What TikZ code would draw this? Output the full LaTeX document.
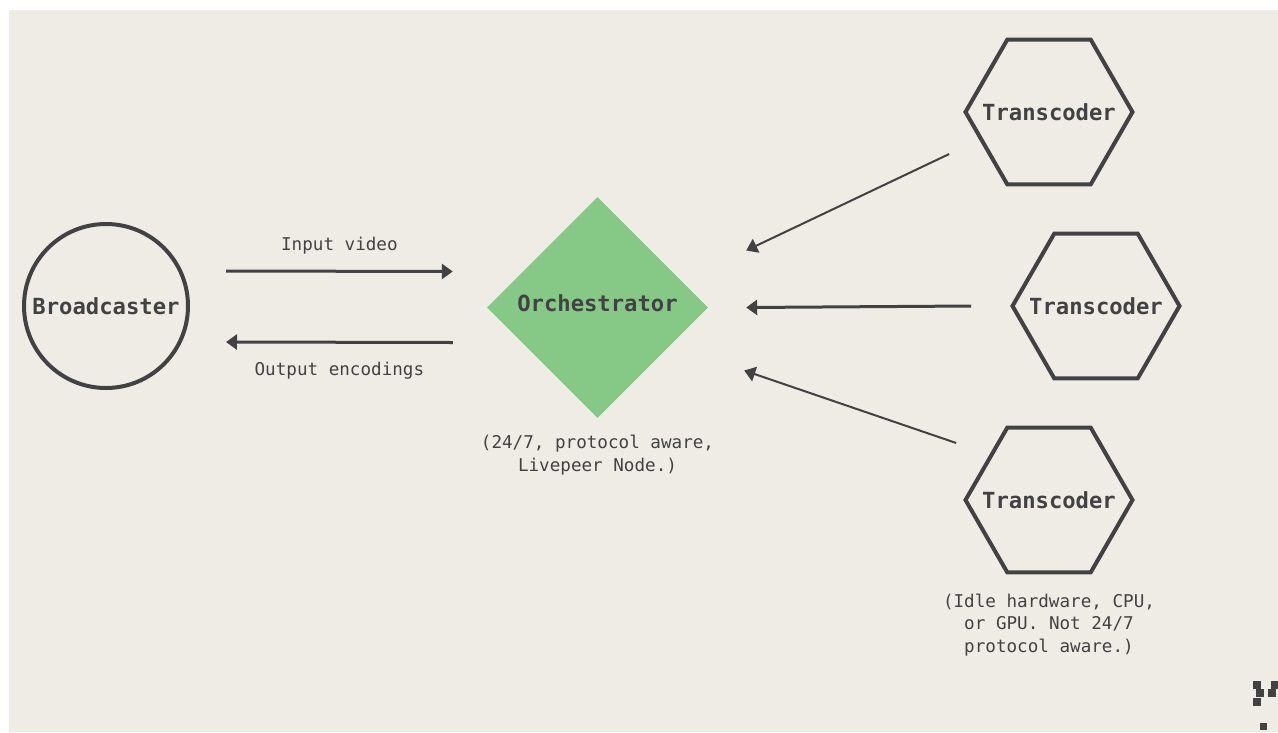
\documentclass[tikz,border=0pt]{standalone}
\usepackage{fontspec}
\setmonofont{DejaVu Sans Mono}
\usetikzlibrary{shapes.geometric,arrows.meta,positioning}
\definecolor{paper}{HTML}{EFECE6}
\definecolor{ink}{HTML}{424242}
\definecolor{leaf}{HTML}{86C886}
\begin{document}
\begin{tikzpicture}[x=1pt,y=-1pt,
  lbl/.style={font=\ttfamily\fontsize{17.6}{22.5}\selectfont, text=ink, inner sep=0pt, align=center},
  big/.style={font=\ttfamily\bfseries\fontsize{22.2}{26}\selectfont, text=ink, inner sep=0pt},
  hexa/.style={draw=ink, line width=4pt, regular polygon, regular polygon sides=6, minimum size=167pt, inner sep=0pt},
  arr/.style={draw=ink, -{Triangle[length=11pt,width=15pt]}}]
\useasboundingbox (0,0) rectangle (1278,732);
\fill[white] (0,0) rectangle (1278,732);
\fill[paper] (9,10) rectangle (1278,732);
% nodes
\node[big, circle, draw=ink, line width=4pt, minimum size=164pt] (bcast) at (106,306) {Broadcaster};
\node[big, diamond, fill=leaf, aspect=1, minimum size=221pt] (orch) at (597.5,307.5) {\raisebox{8pt}{Orchestrator}};
\node[hexa, label={[big]center:Transcoder}] (tc1) at (1049,112) {};
\node[hexa, label={[big]center:Transcoder}] (tc2) at (1096,306) {};
\node[hexa, label={[big]center:Transcoder}] (tc3) at (1049,500) {};
\node[lbl, below=17pt of orch] (orchnote) {(24/7, protocol aware,\\Livepeer Node.)};
\node[lbl, below=19pt of tc3] (tcnote) {(Idle hardware, CPU,\\or GPU. Not 24/7\\protocol aware.)};
% connectors
\draw[arr, line width=3pt] ([shift={(36,-35)}]bcast.east) -- ([shift={(-34,-36)}]orch.west)
  node[lbl, midway, above=16pt] (inlbl) {Input video};
\draw[arr, line width=3pt] ([shift={(-34,35)}]orch.west) -- ([shift={(36,36)}]bcast.east)
  node[lbl, midway, below=18pt] (outlbl) {Output encodings};
\draw[arr, line width=2pt] ([shift={(-14,42)}]tc1.west) -- ([shift={(38,-57)}]orch.east);
\draw[arr, line width=3pt] ([shift={(-39,0)}]tc2.west) -- ([shift={(38,0)}]orch.east);
\draw[arr, line width=2pt] ([shift={(-7,-57)}]tc3.west) -- ([shift={(36,63)}]orch.east);
% corner mark
\fill[ink] (1253,681) rectangle (1261,689);
\fill[ink] (1256,689) rectangle (1264,697);
\fill[ink] (1253,698) rectangle (1261,706);
\fill[ink] (1271,681) rectangle (1278,689);
\fill[ink] (1268,689) rectangle (1276,697);
\fill[ink] (1260,723) rectangle (1267,730);
\end{tikzpicture}
\end{document}
